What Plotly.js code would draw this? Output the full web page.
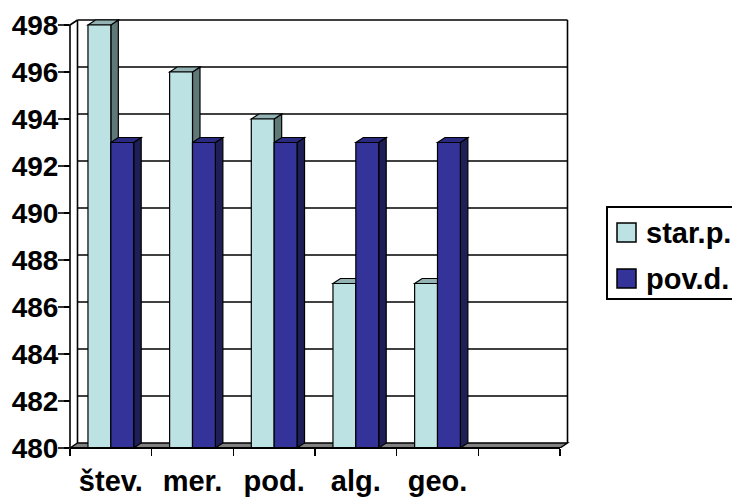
<!DOCTYPE html>
<html>
<head>
<meta charset="utf-8">
<script src="https://cdn.plot.ly/plotly-3.0.1.min.js"></script>
<style>
  html, body { margin: 0; padding: 0; background: #ffffff; }
  #chart { width: 732px; height: 497px; }
</style>
</head>
<body>
<div id="chart"></div>
<script>
// Category names (a sixth, empty slot follows the last one)
const categories = ['štev.', 'mer.', 'pod.', 'alg.', 'geo.'];
const slotCount = 6;

// Series values
const starP = [498, 496, 494, 487, 487];
const povD = [493, 493, 493, 493, 493];
const seriesNames = ['star.p.', 'pov.d.'];

// Value axis ticks
const yTicks = [480, 482, 484, 486, 488, 490, 492, 494, 496, 498];

// ---- layout geometry (pixels) ----
const W = 732, H = 497;
const M = { l: 70, r: 160, t: 16, b: 49 };
const plotW = W - M.l - M.r;
const plotH = H - M.t - M.b;
const pxPerCat = 81.667;          // width of one category slot
const pxPerUnit = 23.5;           // pixels per value unit
const yMin = yTicks[0], yMax = yTicks[yTicks.length - 1];
const xRange = [-0.5, -0.5 + plotW / pxPerCat];
const yRange = [yMin, yMin + plotH / pxPerUnit];

// depth offset of the 3-D look, converted to data units
const dX = 7.5 / pxPerCat;
const dY = 5 / pxPerUnit;

const barW = 0.28;
const xIdx = categories.map((_, i) => i);
const leftEdge = -0.5, rightEdge = slotCount - 0.5;

const colors = {
  lightFront: '#bde2e3', lightTop: '#93b2b3', lightSide: '#5f7979',
  darkFront: '#333399', darkTop: '#2a2a80', darkSide: '#1f1f57',
  floor: '#808080'
};

// data -> paper helpers (for frame lines that sit on the plot-area border)
const xToPaper = v => (v - xRange[0]) / (xRange[1] - xRange[0]);
const yToPaper = v => (v - yRange[0]) / (yRange[1] - yRange[0]);
const pxToPaperX = px => (px - M.l) / plotW;
const pxToPaperY = py => (H - M.b - py) / plotH;

const line = (x0, y0, x1, y1, w) => ({
  type: 'line', xref: 'x', yref: 'y', x0, y0, x1, y1, layer: 'below',
  line: { color: '#000000', width: w || 1.6 }
});
const paperLine = (x0, y0, x1, y1, w) => ({
  type: 'line', xref: 'paper', yref: 'paper', layer: 'above',
  x0: xToPaper(x0), y0: yToPaper(y0), x1: xToPaper(x1), y1: yToPaper(y1),
  line: { color: '#000000', width: w || 1.6 }
});
const poly = (pts, fill, w) => ({
  type: 'path', xref: 'x', yref: 'y', layer: 'below',
  path: 'M' + pts.map(p => p[0] + ',' + p[1]).join(' L') + ' Z',
  fillcolor: fill, line: { color: '#000000', width: w || 1.2 }
});

const shapes = [];

// back wall: gridlines and edges
yTicks.slice(1).forEach(v => shapes.push(line(leftEdge + dX, v + dY, rightEdge + dX, v + dY)));
shapes.push(line(leftEdge + dX, yMin + dY, leftEdge + dX, yMax + dY));
shapes.push(line(rightEdge + dX, yMin + dY, rightEdge + dX, yMax + dY));

// floor
shapes.push(poly([[leftEdge, yMin], [rightEdge, yMin], [rightEdge + dX, yMin + dY], [leftEdge + dX, yMin + dY]], colors.floor, 1.4));

// top and side faces of each bar
function barFaces(values, offset, top, side) {
  values.forEach((v, i) => {
    const x0 = i + offset, x1 = x0 + barW;
    shapes.push(poly([[x1, yMin], [x1 + dX, yMin + dY], [x1 + dX, v + dY], [x1, v]], side));
    shapes.push(poly([[x0, v], [x0 + dX, v + dY], [x1 + dX, v + dY], [x1, v]], top));
  });
}
barFaces(starP, -barW, colors.lightTop, colors.lightSide);
barFaces(povD, 0, colors.darkTop, colors.darkSide);

// front value axis, its link to the back wall, and the front edge of the floor
shapes.push(paperLine(leftEdge, yMin, leftEdge, yMax));
shapes.push(paperLine(leftEdge, yMax, leftEdge + dX, yMax + dY));
shapes.push(paperLine(leftEdge, yMin, rightEdge, yMin, 1.8));

// long tick marks on the value axis
const tickLenPx = 12;
yTicks.forEach(v => shapes.push({
  type: 'line', xref: 'paper', yref: 'paper', layer: 'above',
  x0: -tickLenPx / plotW, x1: 0, y0: yToPaper(v), y1: yToPaper(v),
  line: { color: '#000000', width: 1.6 }
}));

// legend box and swatches
shapes.push({
  type: 'rect', xref: 'paper', yref: 'paper', layer: 'above',
  x0: pxToPaperX(607), x1: pxToPaperX(800), y0: pxToPaperY(299), y1: pxToPaperY(207),
  fillcolor: '#ffffff', line: { color: '#000000', width: 2 }
});
const legendRows = [232.5, 278.5];
const swatchFill = [colors.lightFront, colors.darkFront];
legendRows.forEach((cy, k) => shapes.push({
  type: 'rect', xref: 'paper', yref: 'paper', layer: 'above',
  x0: pxToPaperX(617), x1: pxToPaperX(636), y0: pxToPaperY(cy + 9.5), y1: pxToPaperY(cy - 9.5),
  fillcolor: swatchFill[k], line: { color: '#000000', width: 1.5 }
}));
const annotations = legendRows.map((cy, k) => ({
  xref: 'paper', yref: 'paper', x: pxToPaperX(644), y: pxToPaperY(cy),
  xanchor: 'left', yanchor: 'middle', showarrow: false, text: seriesNames[k],
  font: { family: 'Liberation Sans, Arial, sans-serif', size: 29, color: '#000000', weight: 'bold' }
}));

const traces = [
  { type: 'bar', name: seriesNames[0], x: xIdx, y: starP, width: barW, offset: -barW,
    marker: { color: colors.lightFront, line: { color: '#000000', width: 1.2 } },
    showlegend: false, hoverinfo: 'skip' },
  { type: 'bar', name: seriesNames[1], x: xIdx, y: povD, width: barW, offset: 0,
    marker: { color: colors.darkFront, line: { color: '#000000', width: 1.2 } },
    showlegend: false, hoverinfo: 'skip' }
];

const boundaries = Array.from({ length: slotCount + 1 }, (_, i) => i - 0.5);
const tickFont = { family: 'Liberation Sans, Arial, sans-serif', size: 29, color: '#000000', weight: 'bold' };

const layout = {
  width: W, height: H, margin: M,
  paper_bgcolor: '#ffffff', plot_bgcolor: '#ffffff',
  barmode: 'overlay', showlegend: false,
  xaxis: {
    type: 'linear', range: xRange, showgrid: false, zeroline: false, showline: false,
    tickmode: 'array', tickvals: xIdx, ticktext: categories, ticks: '',
    ticklabelstandoff: 13, tickfont: tickFont,
    minor: { tickmode: 'array', tickvals: boundaries, ticks: 'outside', ticklen: 7,
             tickwidth: 1.6, tickcolor: '#000000', showgrid: false }
  },
  yaxis: {
    type: 'linear', range: yRange, showgrid: false, zeroline: false, showline: false,
    tickmode: 'array', tickvals: yTicks, ticks: 'outside', ticklen: 5, tickwidth: 1.6,
    tickcolor: '#000000', ticklabelstandoff: 0,
    tickfont: Object.assign({}, tickFont, { size: 28 })
  },
  shapes, annotations
};

Plotly.newPlot('chart', traces, layout, { staticPlot: true, displayModeBar: false });
</script>
</body>
</html>
